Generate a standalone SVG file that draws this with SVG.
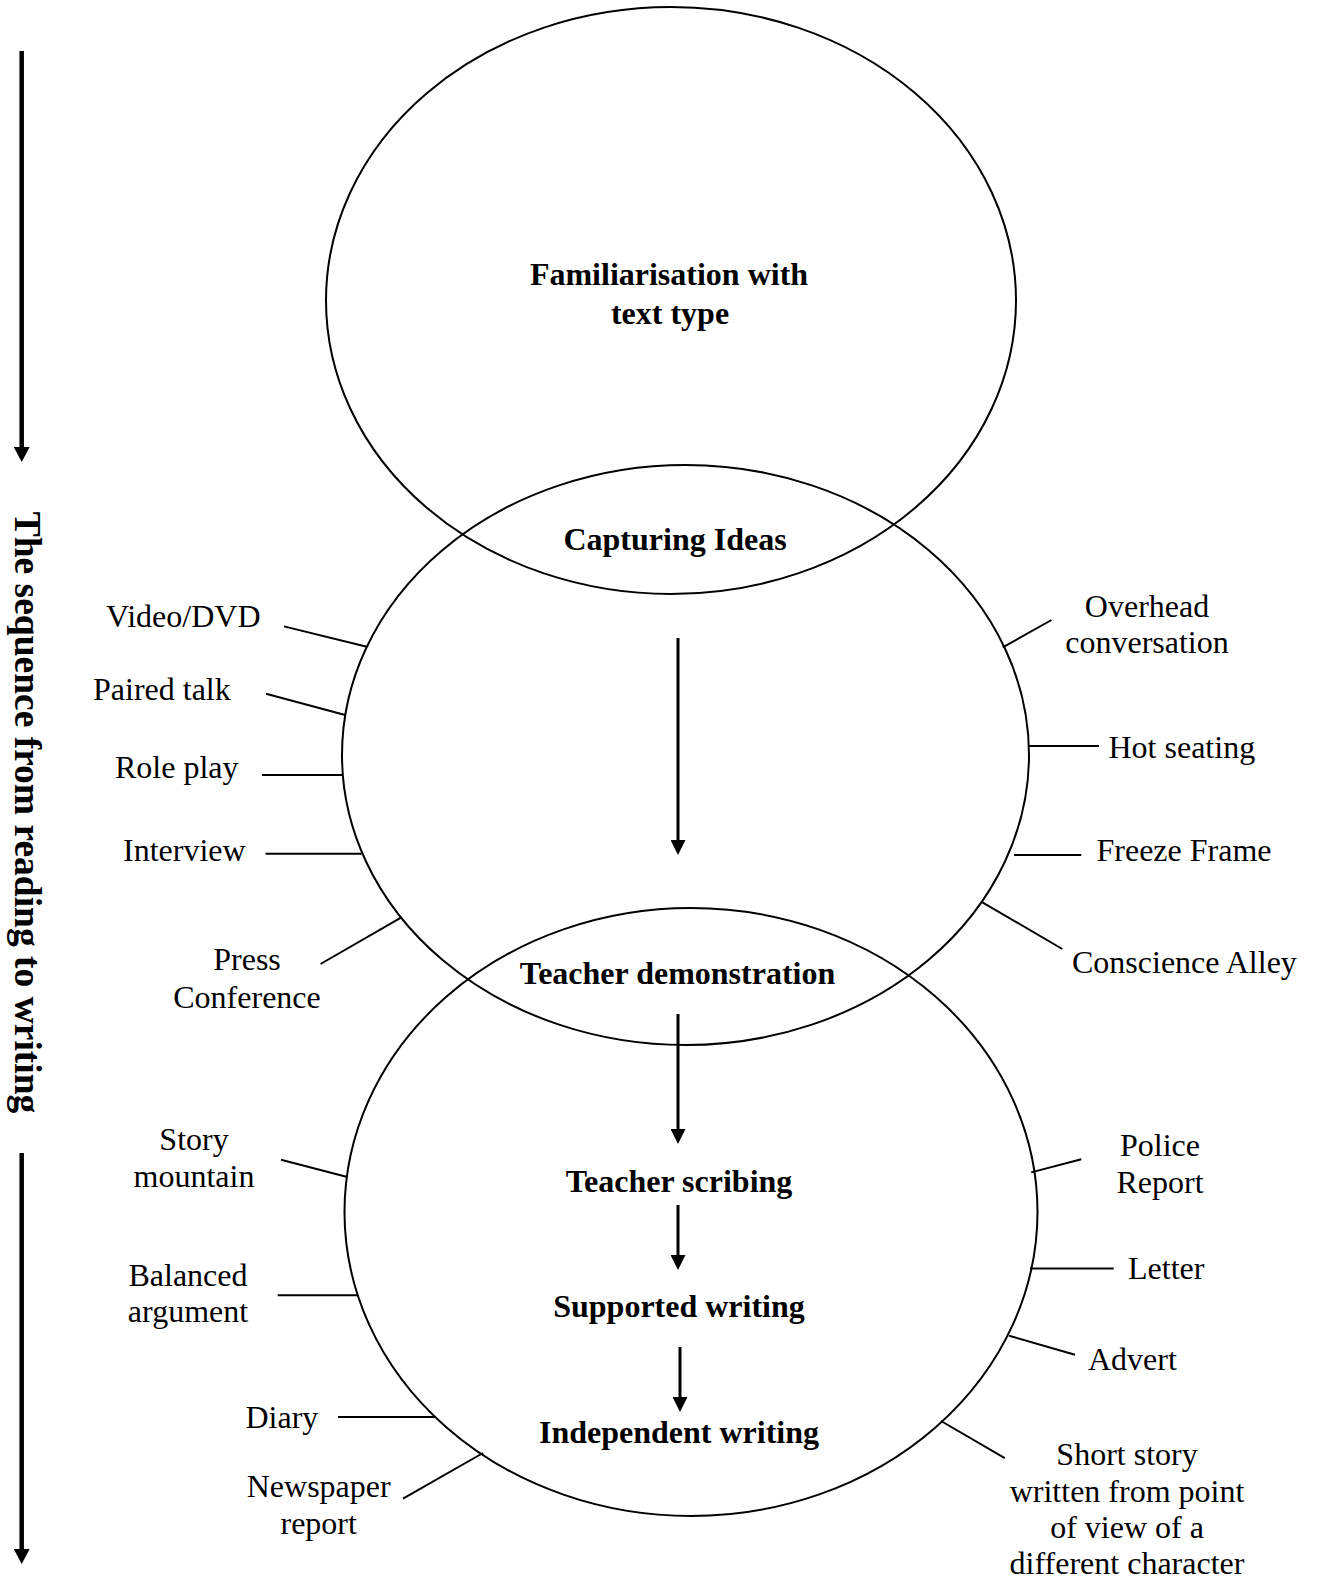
<svg xmlns="http://www.w3.org/2000/svg" width="1317" height="1581" viewBox="0 0 1317 1581">
<style>
.ell{fill:none;stroke:#000;stroke-width:2}
.t{font-family:"Liberation Serif","Times New Roman",serif;font-size:32px;fill:#000}
.b{font-weight:bold}
.m{text-anchor:middle}
.tick{stroke:#000;stroke-width:2;fill:none}
.arr{stroke:#000;stroke-width:3;fill:none}
.big{stroke:#000;stroke-width:4.5;fill:none}
</style>
<defs>
<marker id="ah" viewBox="0 0 15 15" refX="1" refY="7.5" markerWidth="15" markerHeight="15" markerUnits="userSpaceOnUse" orient="auto">
<path d="M0,0 L15,7.5 L0,15 z" fill="#000"/>
</marker>
<marker id="ahb" viewBox="0 0 15 16" refX="1" refY="8" markerWidth="15" markerHeight="16" markerUnits="userSpaceOnUse" orient="auto">
<path d="M0,0 L15,8 L0,16 z" fill="#000"/>
</marker>
</defs>
<rect width="1317" height="1581" fill="#fff"/>

<g id="node-familiarisation">
<ellipse class="ell" cx="671" cy="300.5" rx="345" ry="293.5"/>
<text class="t b m" x="669" y="285">Familiarisation with</text>
<text class="t b m" x="670" y="324">text type</text>
</g>
<g id="node-capturing">
<ellipse class="ell" cx="685.5" cy="755" rx="343.5" ry="290"/>
<text class="t b m" x="675" y="550">Capturing Ideas</text>
</g>
<g id="node-writing">
<ellipse class="ell" cx="691" cy="1212" rx="346.5" ry="304"/>
<text class="t b m" x="677.5" y="984">Teacher demonstration</text>
</g>
<g id="node-scribing"><text class="t b m" x="679" y="1192">Teacher scribing</text></g>
<g id="node-supported"><text class="t b m" x="679" y="1317">Supported writing</text></g>
<g id="node-independent"><text class="t b m" x="679" y="1443">Independent writing</text></g>

<g id="node-sequence">
<text class="t b m" style="font-size:37.5px" transform="translate(15,812.5) rotate(90)">The sequence from reading to writing</text>
</g>

<g id="node-video"><text class="t" x="106" y="627">Video/DVD</text></g>
<g id="node-paired"><text class="t" x="93" y="700">Paired talk</text></g>
<g id="node-role"><text class="t" x="115" y="778">Role play</text></g>
<g id="node-interview"><text class="t" x="123" y="861">Interview</text></g>
<g id="node-press"><text class="t m" x="247" y="970">Press</text><text class="t m" x="247" y="1008">Conference</text></g>
<g id="node-overhead"><text class="t m" x="1147" y="617">Overhead</text><text class="t m" x="1147" y="653">conversation</text></g>
<g id="node-hot"><text class="t" x="1108.5" y="758">Hot seating</text></g>
<g id="node-freeze"><text class="t" x="1096.5" y="861">Freeze Frame</text></g>
<g id="node-conscience"><text class="t" x="1072" y="973">Conscience Alley</text></g>
<g id="node-story"><text class="t m" x="194" y="1150">Story</text><text class="t m" x="194" y="1187">mountain</text></g>
<g id="node-balanced"><text class="t m" x="188" y="1286">Balanced</text><text class="t m" x="188" y="1322">argument</text></g>
<g id="node-diary"><text class="t" x="245.5" y="1428">Diary</text></g>
<g id="node-newspaper"><text class="t m" x="318.7" y="1497">Newspaper</text><text class="t m" x="318.7" y="1534">report</text></g>
<g id="node-police"><text class="t m" x="1160" y="1156">Police</text><text class="t m" x="1160" y="1193">Report</text></g>
<g id="node-letter"><text class="t" x="1128" y="1279">Letter</text></g>
<g id="node-advert"><text class="t" x="1088" y="1370">Advert</text></g>
<g id="node-short"><text class="t m" x="1127" y="1465">Short story</text><text class="t m" x="1127" y="1502">written from point</text><text class="t m" x="1127" y="1538">of view of a</text><text class="t m" x="1127" y="1574">different character</text></g>

<g id="connectors">
<line class="big" x1="21.7" y1="51" x2="21.7" y2="448" marker-end="url(#ahb)"/>
<line class="big" x1="21.7" y1="1153" x2="21.7" y2="1550" marker-end="url(#ahb)"/>
<line class="arr" x1="678" y1="638" x2="678" y2="841" marker-end="url(#ah)"/>
<line class="arr" x1="678" y1="1014" x2="678" y2="1130" marker-end="url(#ah)"/>
<line class="arr" x1="678" y1="1205" x2="678" y2="1256" marker-end="url(#ah)"/>
<line class="arr" x1="680" y1="1347" x2="680" y2="1398" marker-end="url(#ah)"/>
<line class="tick" x1="284" y1="626.4" x2="366.8" y2="646.7"/>
<line class="tick" x1="266" y1="693.7" x2="345.2" y2="715"/>
<line class="tick" x1="262" y1="775" x2="342.4" y2="775"/>
<line class="tick" x1="265.6" y1="853.7" x2="361.6" y2="853.7"/>
<line class="tick" x1="320.5" y1="964" x2="401" y2="917.6"/>
<line class="tick" x1="1051.5" y1="620" x2="1002.7" y2="647.4"/>
<line class="tick" x1="1028.6" y1="746" x2="1099" y2="746"/>
<line class="tick" x1="1014" y1="855" x2="1081.3" y2="855"/>
<line class="tick" x1="982.4" y1="902.3" x2="1062.3" y2="949"/>
<line class="tick" x1="281" y1="1159.8" x2="346.4" y2="1176.7"/>
<line class="tick" x1="277.7" y1="1295.3" x2="357" y2="1295.3"/>
<line class="tick" x1="338" y1="1417" x2="435" y2="1417"/>
<line class="tick" x1="403" y1="1498.6" x2="483" y2="1453"/>
<line class="tick" x1="1031.2" y1="1172.4" x2="1081.3" y2="1159.3"/>
<line class="tick" x1="1030" y1="1268.4" x2="1113.7" y2="1268.4"/>
<line class="tick" x1="1009" y1="1335.7" x2="1075" y2="1354.8"/>
<line class="tick" x1="941" y1="1421" x2="1004.8" y2="1458.2"/>
</g>
</svg>
